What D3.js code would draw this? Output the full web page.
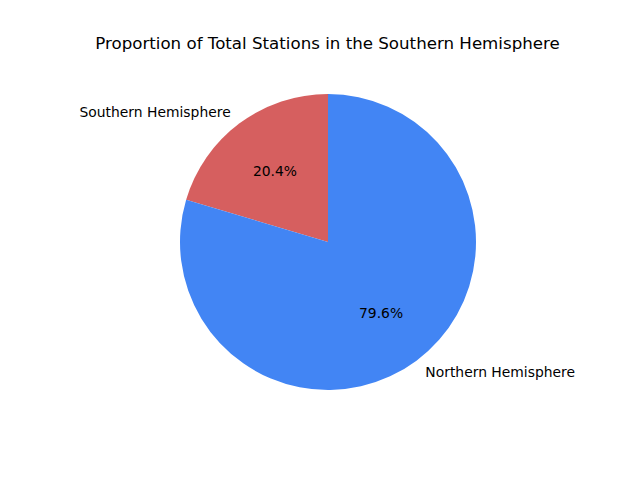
<!DOCTYPE html>
<html><head><meta charset="utf-8">
<script src="https://cdn.jsdelivr.net/npm/d3@7"></script>
<style>body{margin:0;background:#fff}svg{display:block}text{font-family:"DejaVu Sans",sans-serif;fill:#000}</style>
</head><body>
<svg id="c" width="640" height="480"></svg>
<script>
const categories = ["Southern Hemisphere", "Northern Hemisphere"];
const values = [20.4, 79.6];
const colors = ["#d65f5f", "#4285f4"];
const title = "Proportion of Total Stations in the Southern Hemisphere";

const svg = d3.select("#c");
const cx = 328, cy = 242, r = 148;
svg.append("text").attr("x", 327.5).attr("y", 43).attr("text-anchor", "middle")
  .attr("dominant-baseline", "central").style("font-size", "16.67px").text(title);

const data = categories.map((c, i) => ({c, v: values[i], col: colors[i]}));
// matplotlib: startangle 90, counterclockwise. d3 angles clockwise from top.
const pie = d3.pie().value(d => d.v).sort(null).startAngle(0).endAngle(-2 * Math.PI);
const arcs = pie(data);
const arc = d3.arc().innerRadius(0).outerRadius(r);
const g = svg.append("g").attr("transform", `translate(${cx},${cy})`);
g.selectAll("path").data(arcs).join("path").attr("d", arc).attr("fill", d => d.data.col);

const total = d3.sum(values);
arcs.forEach(a => {
  const mid = (a.startAngle + a.endAngle) / 2;
  const sx = Math.sin(mid), sy = -Math.cos(mid);
  g.append("text").attr("x", 1.1 * r * sx).attr("y", 1.1 * r * sy)
    .attr("text-anchor", sx < 0 ? "end" : "start").attr("dominant-baseline", "central")
    .style("font-size", "13.89px").text(a.data.c);
  g.append("text").attr("x", 0.6 * r * sx).attr("y", 0.6 * r * sy)
    .attr("text-anchor", "middle").attr("dominant-baseline", "central")
    .style("font-size", "13.89px").text((a.data.v / total * 100).toFixed(1) + "%");
});
</script>
</body></html>
